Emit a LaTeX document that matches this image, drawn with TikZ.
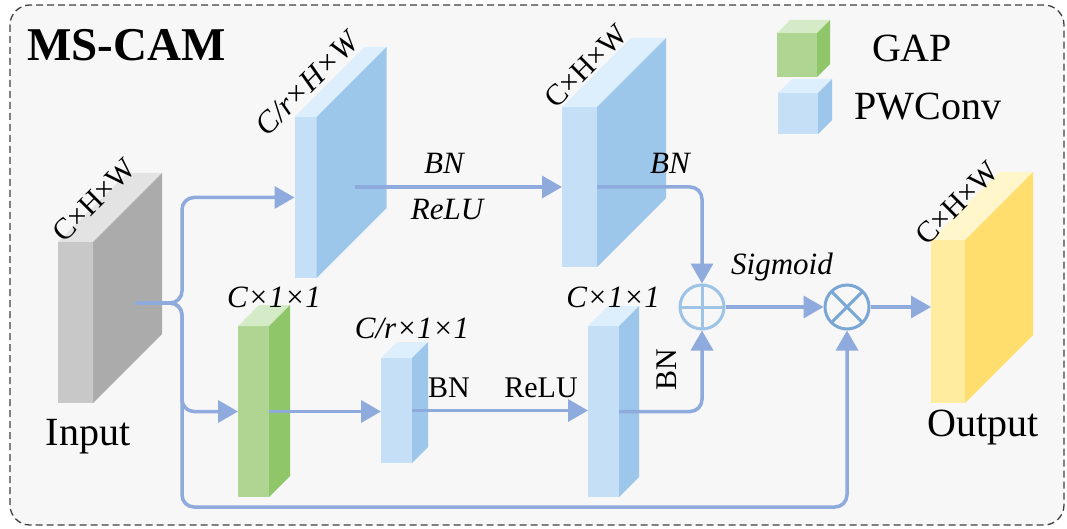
\documentclass[tikz,border=0pt]{standalone}
\usepackage{fontspec}
\setmainfont{Liberation Serif}
\usetikzlibrary{arrows.meta,calc}
\definecolor{bgc}{HTML}{F7F7F7}
\definecolor{bordc}{HTML}{404040}
\definecolor{linec}{HTML}{8FAADC}
\definecolor{addc}{HTML}{9DC3E6}
\definecolor{mulc}{HTML}{7BA7D6}
\definecolor{grayT}{HTML}{E3E3E3}
\definecolor{grayF}{HTML}{C8C8C8}
\definecolor{grayS}{HTML}{ABABAB}
\definecolor{blueT}{HTML}{DDEEFC}
\definecolor{blueF}{HTML}{C5DFF6}
\definecolor{blueS}{HTML}{9DC6EB}
\definecolor{greenT}{HTML}{D5EBC7}
\definecolor{greenF}{HTML}{AED692}
\definecolor{greenS}{HTML}{90C66A}
\definecolor{yelT}{HTML}{FFF6CC}
\definecolor{yelF}{HTML}{FFEC9E}
\definecolor{yelS}{HTML}{FFDE6E}
\newcommand\cubfaces[4]{%
  \fill[#3] (#1.north west) -- ++(#2,-#2) -- ($(#1.north east)+(#2,-#2)$) -- (#1.north east) -- cycle;
  \fill[#4] (#1.north east) -- ++(#2,-#2) -- ($(#1.south east)+(#2,-#2)$) -- (#1.south east) -- cycle;
}
\tikzset{
  face/.style={inner sep=0pt, outer sep=0pt, draw=none, minimum width=#1},
  conn/.style={draw=linec, line width=3.5pt, rounded corners=12pt},
  arr/.style={conn, -{Triangle[length=20pt,width=22pt]}},
  lbl/.style={font=\fontsize{30}{36}\selectfont, inner sep=0pt},
  ilbl/.style={font=\fontsize{31}{36}\selectfont\itshape, inner sep=0pt},
  big/.style={font=\fontsize{40}{48}\selectfont, inner sep=0pt},
  opc/.style={circle, minimum size=44pt, inner sep=0pt, line width=3pt, fill=bgc},
}
\begin{document}
\begin{tikzpicture}[x=1pt,y=-1pt]
\useasboundingbox (0,0) rectangle (1067,529);
\draw[fill=bgc, draw=bordc, line width=1.3pt, dash pattern=on 7pt off 4pt, rounded corners=20pt] (10,5) rectangle (1064,525);

\node[font=\fontsize{47}{56}\selectfont\bfseries, inner sep=0pt, anchor=west] (title) at (27,45) {MS-CAM};

% front faces
\node[face=35pt, minimum height=161pt, fill=grayF] (in) at (75.5,322.5) {};
\node[face=22pt, minimum height=161pt, fill=blueF] (b1) at (305.5,197.5) {};
\node[face=35pt, minimum height=160pt, fill=blueF] (b2) at (579.5,187) {};
\node[face=34pt, minimum height=163pt, fill=yelF] (out) at (948,321.5) {};
\node[face=31pt, minimum height=171pt, fill=greenF] (gap) at (253.5,411.5) {};
\node[face=31pt, minimum height=105pt, fill=blueF] (sb) at (396.5,410.5) {};
\node[face=31pt, minimum height=171pt, fill=blueF] (mb) at (603.5,411.5) {};
\node[face=40pt, minimum height=44pt, fill=greenF] (lg) at (797,55) {};
\node[face=40pt, minimum height=41pt, fill=blueF] (lb) at (798,113.5) {};
\cubfaces{in}{69}{grayT}{grayS}
\cubfaces{b1}{70}{blueT}{blueS}
\cubfaces{b2}{69}{blueT}{blueS}
\cubfaces{out}{68}{yelT}{yelS}
\cubfaces{gap}{21}{greenT}{greenS}
\cubfaces{sb}{16}{blueT}{blueS}
\cubfaces{mb}{20}{blueT}{blueS}
\cubfaces{lg}{13}{greenT}{greenS}
\cubfaces{lb}{14}{blueT}{blueS}

% legend
\node[big] (gapt) at (912,48) {GAP};
\node[big] (pwt) at (928,107) {PWConv};

% operators
\node[opc, draw=addc, path picture={\draw[addc, line width=3pt] (path picture bounding box.north) -- (path picture bounding box.south) (path picture bounding box.west) -- (path picture bounding box.east);}] (add) at (702,307) {};
\node[opc, draw=mulc, path picture={\draw[mulc, line width=3pt] (path picture bounding box.north west) -- (path picture bounding box.south east) (path picture bounding box.south west) -- (path picture bounding box.north east);}] (mul) at (847,307) {};

% connector points
\coordinate (inout) at (135,303);
\coordinate (split) at (182,303);
\coordinate (bot) at (182,507);
\coordinate (b1out) at (355,187);

% connectors
\draw[arr] (inout) -- (split) |- (b1.west);
\draw[arr] (inout) -- (split) |- (gap.west);
\draw[arr] (inout) -- (split) -- (bot) -| (mul.south);
\draw[arr] (b1out) -- (b2.west);
\draw[arr] (b2.east) -| (add.north);
\draw[arr] (gap.east) -- (gap.east -| sb.west);
\draw[arr] (sb.east) -- (sb.east -| mb.west);
\draw[arr] (mb.east) -| (add.south);
\draw[arr] (add.east) -- (mul.west);
\draw[arr] (mul.east) -- (mul.east -| out.west);

% labels
\node[lbl, rotate=45] (lin) at (94,200) {C×H×W};
\node[ilbl, rotate=45] (lb1) at (307,84) {C/r×H×W};
\node[lbl, rotate=45] (lb2) at (586,66) {C×H×W};
\node[lbl, rotate=45] (lout) at (957,203) {C×H×W};
\node[ilbl] (bn1) at (444,163) {BN};
\node[ilbl] (relu1) at (447,210) {ReLU};
\node[ilbl] (bn2) at (670,163) {BN};
\node[ilbl] (sig) at (782,267) {Sigmoid};
\node[ilbl] (lgap) at (274,297) {C×1×1};
\node[ilbl] (lsb) at (412,328) {C/r×1×1};
\node[ilbl] (lmb) at (613,297) {C×1×1};
\node[lbl] (bn3) at (449,388) {BN};
\node[lbl] (relu2) at (541,388) {ReLU};
\node[lbl, rotate=90] (bn4) at (667,370) {BN};
\node[big] (tin) at (88,437) {Input};
\node[big] (tout) at (983,428) {Output};
\end{tikzpicture}
\end{document}
